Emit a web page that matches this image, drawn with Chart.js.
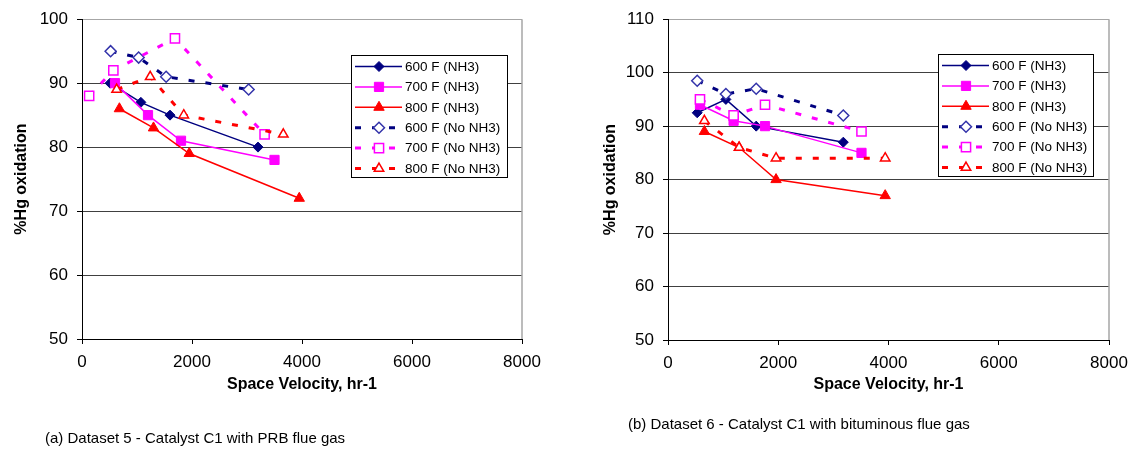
<!DOCTYPE html>
<html>
<head>
<meta charset="utf-8">
<script src="https://cdn.jsdelivr.net/npm/chart.js@4.4.1/dist/chart.umd.min.js"></script>
<style>
html,body{margin:0;padding:0;background:#fff;width:1140px;height:452px;overflow:hidden;font-family:"Liberation Sans",Arial,sans-serif}
.wrap{position:absolute;top:0;height:452px}
#wa{left:0;width:580px}
#wb{left:580px;width:560px}
.cap{position:absolute;font-size:15px;color:#000;white-space:nowrap}
</style>
</head>
<body>
<div class="wrap" id="wa"><canvas id="chartA"></canvas></div>
<div class="wrap" id="wb"><canvas id="chartB"></canvas></div>
<div class="cap" style="left:45px;top:429px">(a) Dataset 5 - Catalyst C1 with PRB flue gas</div>
<div class="cap" style="left:628px;top:415px">(b) Dataset 6 - Catalyst C1 with bituminous flue gas</div>
<script>
const seriesNames = ['600 F (NH3)','700 F (NH3)','800 F (NH3)','600 F (No NH3)','700 F (No NH3)','800 F (No NH3)'];
const xTicks = [0, 2000, 4000, 6000, 8000];

// (a) Dataset 5 - PRB flue gas: space velocity (hr-1) and %Hg oxidation
const svA600 = [510, 1070, 1600, 3200],  hgA600 = [90, 87, 85, 80];
const svA700 = [600, 1200, 1800, 3500],  hgA700 = [90, 85, 81, 78];
const svA800 = [680, 1300, 1950, 3950],  hgA800 = [86, 83, 79, 72];
const svA600n = [520, 1030, 1530, 3030], hgA600n = [95, 94, 91, 89];
const svA700n = [130, 570, 1690, 3320],  hgA700n = [88, 92, 97, 82];
const svA800n = [630, 1240, 1850, 3660], hgA800n = [89, 91, 85, 82];

// (b) Dataset 6 - bituminous flue gas
const svB600 = [530, 1050, 1600, 3180],  hgB600 = [92.5, 95, 90, 87];
const svB700 = [580, 1190, 1760, 3510],  hgB700 = [94, 91, 90, 85];
const svB800 = [660, 1290, 1960, 3940],  hgB800 = [89, 86, 80, 77];
const svB600n = [530, 1050, 1600, 3180], hgB600n = [98.5, 96, 97, 92];
const svB700n = [580, 1190, 1760, 3510], hgB700n = [95, 92, 94, 89];
const svB800n = [660, 1290, 1960, 3940], hgB800n = [91, 86, 84, 84];

const looks = [
  {c:'#000080', dash:[], w:1.5, pt:'rectRot', r:5, fill:'#000080'},
  {c:'#ff00ff', dash:[], w:1.5, pt:'rect', r:6.5, fill:'#ff00ff'},
  {c:'#ff0000', dash:[], w:1.5, pt:'triangle', r:6, fill:'#ff0000'},
  {c:'#000080', dash:[6,11], w:3, pt:'rectRot', r:5.5, fill:'#fff', pc:'#3333aa'},
  {c:'#ff00ff', dash:[6,11], w:3, pt:'rect', r:6.5, fill:'#fff'},
  {c:'#ff0000', dash:[6,11], w:3, pt:'triangle', r:5.5, fill:'#fff'}
];

function pts(xs, ys){ return xs.map((x,i) => ({x:x, y:ys[i]})); }

function makeSets(list){
  return list.map(([xs,ys],i) => {
    const l = looks[i];
    return {
      label: seriesNames[i], data: pts(xs,ys), showLine:true, tension:0,
      borderColor:l.c, borderWidth:l.w, borderDash:l.dash,
      pointStyle:l.pt, pointRadius:l.r, pointHoverRadius:l.r,
      pointBackgroundColor:l.fill, pointBorderColor:l.pc||l.c,
      pointBorderWidth: i<3 ? 1 : 1.5, order:-i
    };
  });
}

const frame = {
  id:'frame',
  beforeDatasetsDraw(chart){
    const {ctx, chartArea:a} = chart;
    ctx.save();
    ctx.strokeStyle = '#a6a6a6'; ctx.lineWidth = 1.5;
    ctx.beginPath(); ctx.moveTo(a.right, a.top); ctx.lineTo(a.right, a.bottom); ctx.stroke();
    ctx.restore();
  }
};

const boxLegend = {
  id:'boxLegend',
  afterDraw(chart, args, o){
    const ctx = chart.ctx;
    ctx.save();
    ctx.fillStyle = '#fff'; ctx.fillRect(o.x, o.y, o.w, o.h);
    ctx.strokeStyle = '#000'; ctx.lineWidth = 1; ctx.setLineDash([]);
    ctx.strokeRect(o.x+0.5, o.y+0.5, o.w, o.h);
    chart.data.datasets.forEach((ds,i) => {
      const cy = o.y + 11.5 + i*20.4;
      ctx.save();
      ctx.strokeStyle = ds.borderColor; ctx.lineWidth = ds.borderWidth;
      ctx.setLineDash(ds.borderDash);
      ctx.beginPath(); ctx.moveTo(o.x+4, cy); ctx.lineTo(o.x+51, cy); ctx.stroke();
      ctx.setLineDash([]);
      ctx.fillStyle = ds.pointBackgroundColor; ctx.strokeStyle = ds.pointBorderColor;
      ctx.lineWidth = ds.pointBorderWidth;
      Chart.helpers.drawPoint(ctx, {pointStyle:ds.pointStyle, radius:ds.pointRadius, borderWidth:ds.pointBorderWidth, rotation:0}, o.x+28, cy);
      ctx.restore();
      ctx.fillStyle = '#000'; ctx.font = '13.5px "Liberation Sans", Arial, sans-serif';
      ctx.textBaseline = 'middle'; ctx.textAlign = 'left';
      ctx.fillText(ds.label, o.x+54, cy+0.5);
    });
    ctx.restore();
  }
};

Chart.defaults.font.family = '"Liberation Sans", Arial, sans-serif';
Chart.defaults.color = '#000';

function build(id, sets, yMax, pad, yW, xH, yTitlePad, legendBox){
  new Chart(document.getElementById(id).getContext('2d'), {
    type:'scatter',
    data:{ datasets: sets },
    plugins:[frame, boxLegend],
    options:{
      responsive:true, maintainAspectRatio:false, animation:false,
      layout:{ padding:pad },
      plugins:{ legend:{display:false}, tooltip:{enabled:false}, boxLegend:legendBox },
      scales:{
        x:{
          type:'linear', min:0, max:8000,
          afterBuildTicks: s => { s.ticks = xTicks.map(v => ({value:v})); },
          afterFit: s => { s.height = xH; },
          grid:{ drawOnChartArea:false, tickLength:5, color:'#000' },
          border:{ color:'#000', width:1 },
          ticks:{ font:{size:17}, padding:8, maxRotation:0, callback: v => String(v) },
          title:{ display:true, text:'Space Velocity, hr-1', font:{size:16, weight:'bold'}, padding:{top:0, bottom:58} }
        },
        y:{
          min:50, max:yMax,
          ticks:{ stepSize:10, font:{size:17}, padding:9 },
          afterFit: s => { s.width = yW; },
          grid:{ tickLength:5, tickColor:'#000', color: c => (c.tick && c.tick.value === yMax) ? '#a6a6a6' : '#404040' },
          border:{ color:'#000', width:1 },
          title:{ display:true, text:'%Hg oxidation', font:{size:16, weight:'bold'}, padding:{top:yTitlePad, bottom:0} }
        }
      }
    }
  });
}

build('chartA',
  makeSets([[svA600,hgA600],[svA700,hgA700],[svA800,hgA800],[svA600n,hgA600n],[svA700n,hgA700n],[svA800n,hgA800n]]),
  100, {top:19, right:58, left:0, bottom:0}, 82, 113, 12, {x:351, y:55, w:156, h:122});

build('chartB',
  makeSets([[svB600,hgB600],[svB700,hgB700],[svB800,hgB800],[svB600n,hgB600n],[svB700n,hgB700n],[svB800n,hgB800n]]),
  110, {top:17, right:31, left:0, bottom:0}, 88, 112, 21, {x:358, y:54, w:155, h:122});
</script>
</body>
</html>
